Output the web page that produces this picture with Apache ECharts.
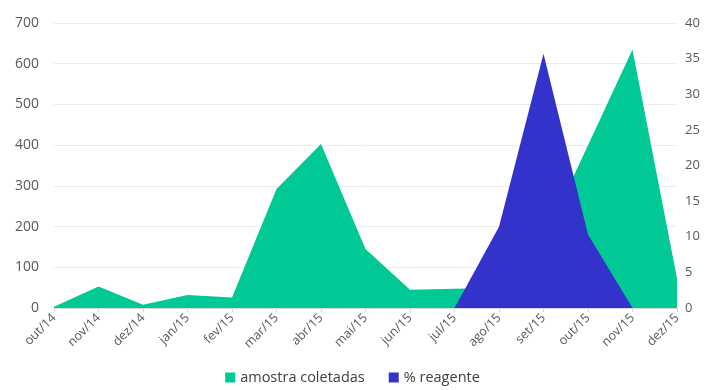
<!DOCTYPE html>
<html><head><meta charset="utf-8">
<script src="https://cdn.jsdelivr.net/npm/echarts@6/dist/echarts.min.js"></script>
<style>html,body{margin:0;padding:0;background:#fff}#c{width:705px;height:390px}</style>
</head><body><div id="c"></div>
<script>
const categories = ['out/14','nov/14','dez/14','jan/15','fev/15','mar/15','abr/15','mai/15','jun/15','jul/15','ago/15','set/15','out/15','nov/15','dez/15'];
const amostraColetadas = [3, 53, 8, 32, 26, 292, 403, 145, 45, 47, 50, 165, 400, 635, 73];
const reagente = [null, null, null, null, null, null, null, null, null, 0, 11.4, 35.7, 10.3, 0, 0];
const leftTicks = [0, 700, 100];
const rightTicks = [0, 40, 5];

const font = '"Open Sans", "Noto Sans", sans-serif';
const chart = echarts.init(document.getElementById('c'), null, {renderer: 'canvas'});
chart.setOption({
  animation: false,
  grid: {left: 54, right: 28, top: 23, bottom: 82, containLabel: false},
  legend: {
    bottom: 0, left: 'center', itemWidth: 10, itemHeight: 10, itemGap: 24,
    icon: 'rect',
    textStyle: {color: '#404040', fontSize: 14.5, fontFamily: font},
    data: ['amostra coletadas', '% reagente']
  },
  xAxis: {
    type: 'category', data: categories, boundaryGap: false,
    axisLine: {lineStyle: {color: '#d9d9d9'}},
    axisTick: {show: true, length: 4, lineStyle: {color: '#d9d9d9'}},
    axisLabel: {rotate: 45, color: '#595959', fontSize: 12.5, fontFamily: font, margin: 8, interval: 0}
  },
  yAxis: [
    {type: 'value', min: leftTicks[0], max: leftTicks[1], interval: leftTicks[2],
     axisLine: {show: false}, axisTick: {show: false},
     splitLine: {lineStyle: {color: '#ececec'}},
     axisLabel: {color: '#595959', fontSize: 14, fontFamily: font, margin: 15}},
    {type: 'value', min: rightTicks[0], max: rightTicks[1], interval: rightTicks[2],
     axisLine: {show: false}, axisTick: {show: false},
     splitLine: {show: false},
     axisLabel: {color: '#595959', fontSize: 13, fontFamily: font, margin: 8}}
  ],
  series: [
    {name: 'amostra coletadas', type: 'line', yAxisIndex: 0, data: amostraColetadas,
     symbol: 'none', lineStyle: {width: 0}, itemStyle: {color: '#00c995'},
     areaStyle: {color: '#00c995', opacity: 1}, z: 2},
    {name: '% reagente', type: 'line', yAxisIndex: 1, data: reagente,
     symbol: 'none', lineStyle: {width: 0}, itemStyle: {color: '#3333cc'},
     areaStyle: {color: '#3333cc', opacity: 1}, z: 3}
  ]
});
</script></body></html>
